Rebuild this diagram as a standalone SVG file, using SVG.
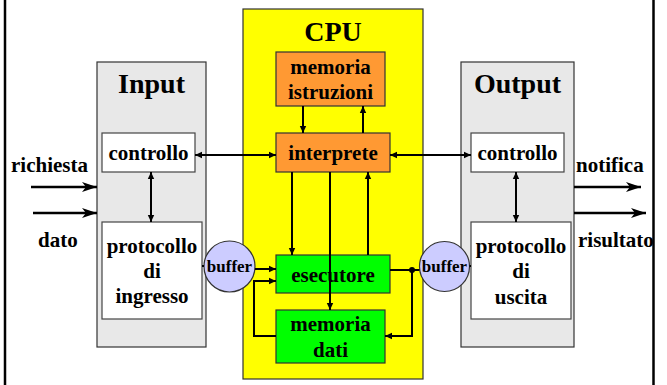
<svg xmlns="http://www.w3.org/2000/svg" width="667" height="385" viewBox="0 0 667 385">
<style>
text{font-family:"Liberation Serif","Times New Roman",serif;font-weight:bold;fill:#000;text-anchor:middle}
.t{font-size:28px}
.m{font-size:21px}
.s{font-size:17px}
.lbl{text-anchor:start}
.c{fill:none;stroke:#000;stroke-width:2}
.e{fill:none;stroke:#000;stroke-width:2.5}
.io{fill:#e8e8e8;stroke:#333;stroke-width:1.2}
.w{fill:#fff;stroke:#444;stroke-width:1.2}
.or{fill:#ff9933;stroke:#333;stroke-width:1.2}
.gr{fill:#00ff00;stroke:#333;stroke-width:1.2}
.bf{fill:#ccccff;stroke:#333;stroke-width:1.2}
</style>
<defs>
<marker id="a" markerWidth="8" markerHeight="8" refX="7" refY="4" orient="auto-start-reverse" markerUnits="userSpaceOnUse">
<path d="M0,0.8 L7,4 L0,7.2 z" fill="#000"/>
</marker>
<marker id="b" markerWidth="16" markerHeight="12" refX="15" refY="6" orient="auto" markerUnits="userSpaceOnUse">
<path d="M0,1 L15,6 L0,11 L4,6 z" fill="#000"/>
</marker>
</defs>
<rect width="667" height="385" fill="#fff"/>
<g id="frame">
<line x1="5" y1="0" x2="5" y2="385" stroke="#000" stroke-width="2.5"/>
<line x1="653.5" y1="0" x2="653.5" y2="385" stroke="#000" stroke-width="2.5"/>
</g>
<g id="input">
<rect class="io" x="97" y="62" width="109" height="285"/>
<text class="t" x="151.5" y="93">Input</text>
</g>
<g id="cpu">
<rect x="243" y="9" width="180" height="370" fill="#ffff00" stroke="#333" stroke-width="1.2"/>
<text class="t" x="333" y="41">CPU</text>
</g>
<g id="output">
<rect class="io" x="461" y="62" width="113" height="285"/>
<text class="t" x="517.5" y="93">Output</text>
</g>
<g id="controllo-in">
<rect class="w" x="102" y="133" width="93" height="39"/>
<text class="m" x="148.5" y="160">controllo</text>
</g>
<g id="protocollo-in">
<rect class="w" x="102" y="222" width="100" height="97"/>
<text class="m" x="152" y="253">protocollo</text>
<text class="m" x="152" y="278">di</text>
<text class="m" x="152" y="303">ingresso</text>
</g>
<g id="controllo-out">
<rect class="w" x="471" y="133" width="93" height="39"/>
<text class="m" x="517.5" y="160">controllo</text>
</g>
<g id="protocollo-out">
<rect class="w" x="471" y="222" width="100" height="97"/>
<text class="m" x="521" y="253">protocollo</text>
<text class="m" x="521" y="278">di</text>
<text class="m" x="521" y="304">uscita</text>
</g>
<g id="memoria-istruzioni">
<rect class="or" x="276" y="52" width="109" height="54"/>
<text class="m" x="330.5" y="74">memoria</text>
<text class="m" x="330.5" y="99">istruzioni</text>
</g>
<g id="interprete">
<rect class="or" x="276" y="133" width="114" height="39"/>
<text class="m" x="333" y="160">interprete</text>
</g>
<g id="esecutore">
<rect class="gr" x="276" y="255" width="114" height="38"/>
<text class="m" x="333" y="282">esecutore</text>
</g>
<g id="memoria-dati">
<rect class="gr" x="276" y="310" width="109" height="53"/>
<text class="m" x="330.5" y="331">memoria</text>
<text class="m" x="330.5" y="357">dati</text>
</g>
<g id="buffer-in">
<circle class="bf" cx="229.5" cy="266.5" r="25.5"/>
<text class="s" x="229.5" y="271.5">buffer</text>
</g>
<g id="buffer-out">
<circle class="bf" cx="444.5" cy="266.5" r="25"/>
<text class="s" x="444.5" y="271.5">buffer</text>
</g>
<g id="labels">
<text class="m lbl" x="11" y="172">richiesta</text>
<text class="m lbl" x="38" y="247">dato</text>
<text class="m lbl" x="576" y="172">notifica</text>
<text class="m lbl" x="578" y="247">risultato</text>
</g>
<g id="connectors">
<path class="e" d="M31,187 H97" marker-end="url(#b)"/>
<path class="e" d="M33,213 H97" marker-end="url(#b)"/>
<path class="e" d="M574,187 H641" marker-end="url(#b)"/>
<path class="e" d="M574,213 H646" marker-end="url(#b)"/>
<path class="c" d="M151,172 V222" marker-start="url(#a)" marker-end="url(#a)"/>
<path class="c" d="M516,172 V222" marker-start="url(#a)" marker-end="url(#a)"/>
<path class="c" d="M195,155 H276" marker-start="url(#a)" marker-end="url(#a)"/>
<path class="c" d="M390,155 H471" marker-start="url(#a)" marker-end="url(#a)"/>
<path class="c" d="M303,106 V133" marker-end="url(#a)"/>
<path class="c" d="M363,133 V106" marker-end="url(#a)"/>
<path class="c" d="M292,172 V255" marker-end="url(#a)"/>
<path class="c" d="M330,172 V310" marker-end="url(#a)"/>
<path class="c" d="M368,255 V172" marker-end="url(#a)"/>
<path class="c" d="M255,269 H276" marker-end="url(#a)"/>
<path class="c" d="M276,336 H254 V281 H276" marker-end="url(#a)"/>
<path class="c" d="M390,270 H419.5"/>
<path class="c" d="M412,270 V336 H385" marker-end="url(#a)"/>
<circle cx="412" cy="270" r="3" fill="#000"/>
<path class="c" d="M202,266 H204"/>
<path class="c" d="M469.5,266 H471"/>
</g>
</svg>
